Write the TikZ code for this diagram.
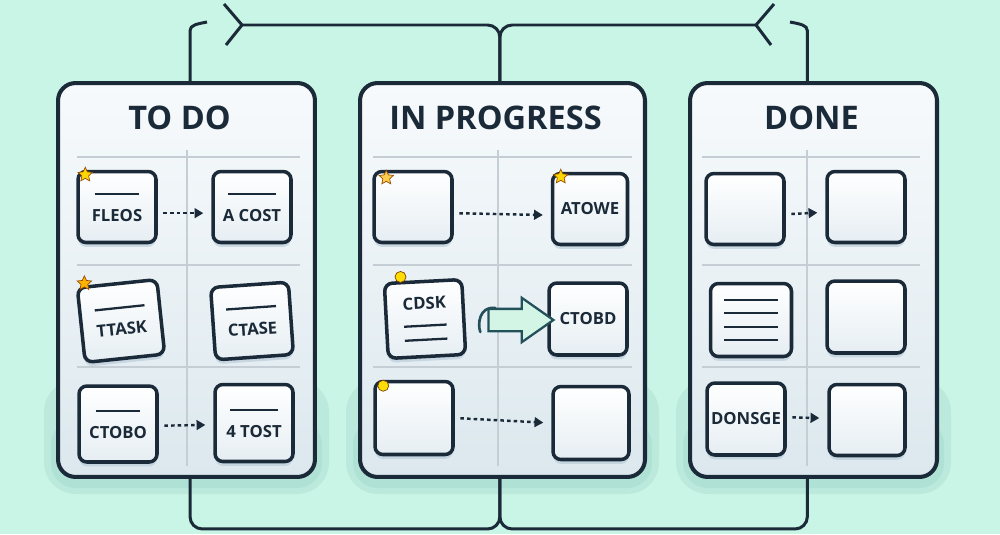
\documentclass[tikz,border=0pt]{standalone}
\usepackage{fontspec}
\setmainfont{Open Sans}
\usetikzlibrary{arrows.meta, positioning, calc}
\usetikzlibrary{shapes.geometric, shapes.arrows, shadows}
\definecolor{mint}{HTML}{C8F5E6}
\definecolor{navy}{HTML}{1B2A38}
\definecolor{gridgrey}{HTML}{C4CED4}
\definecolor{boardtop}{HTML}{F7FAFC}
\definecolor{boardbot}{HTML}{DCE8EE}
\definecolor{cardbot}{HTML}{E6EEF3}
\definecolor{shadowteal}{HTML}{98CDC4}
\definecolor{cardshade}{HTML}{B4C8D6}
\definecolor{arrowfill}{HTML}{D2F5E6}
\definecolor{arrowline}{HTML}{24505A}
\newcommand{\cardline}[1]{\rule{#1}{1.3pt}}

\begin{document}
\begin{tikzpicture}[x=0.02cm, y=-0.02cm,
  board/.style={draw=navy, line width=2.3pt, rounded corners=10pt,
    top color=boardtop, bottom color=boardbot, inner sep=0pt, minimum height=7.88cm},
  title/.style={font=\bfseries\fontsize{18.5}{22}\selectfont, text=navy},
  card/.style={draw=navy, line width=2pt, rounded corners=4.5pt,
    top color=white, bottom color=cardbot, minimum width=1.56cm, minimum height=1.42cm,
    inner sep=2pt, align=center, text=navy, font=\bfseries\fontsize{9.5}{11}\selectfont,
    drop shadow={shadow xshift=0pt, shadow yshift=-2.5pt, fill=cardshade, opacity=0.6}},
  gridline/.style={gridgrey, line width=0.9pt},
  link/.style={navy, line width=1.7pt, rounded corners=7pt},
  dotarrow/.style={navy, line width=1.4pt, dash pattern=on 2pt off 1.8pt,
    -{Triangle[length=5pt, width=5.5pt]}, shorten <=3.2pt, shorten >=4.5pt},
  tack/.style={star, star points=5, star point ratio=2.1, minimum size=0.3cm, inner sep=0pt,
    fill=yellow!75!orange, draw=orange!60!black, line width=0.4pt},
  thumb/.style={circle, minimum size=0.22cm, inner sep=0pt,
    fill=yellow!80!orange, draw=orange!50!black, line width=0.4pt}
]

% Background
\fill[mint] (0,0) rectangle (1000,534);
\useasboundingbox (0,0) rectangle (1000,534);

% Board shadows
\foreach \l/\r in {58/315, 360/645, 690/937} {
  \fill[shadowteal, opacity=0.25, rounded corners=18pt] (\l-14,380) rectangle (\r+14,494);
  \fill[shadowteal, opacity=0.3, rounded corners=14pt] (\l-7,420) rectangle (\r+7,488);
}

% Boards
\node[board, minimum width=5.14cm] (todo) at (186.5,280) {};
\node[board, minimum width=5.7cm] (prog) at (502.5,280) {};
\node[board, minimum width=4.94cm] (done) at (813.5,280) {};

\node[title] (todoT) at ($(todo.north)+(-7,37)$) {TO DO};
\node[title] (progT) at ($(prog.north)+(-7,37)$) {IN PROGRESS};
\node[title] (doneT) at ($(done.north)+(-2,37)$) {DONE};

% Grid lines
\foreach \l/\r/\m in {77/300/187, 373/632/498, 702/920/807} {
  \foreach \y in {157,265,367}
    \draw[gridline] (\l,\y) -- (\r,\y);
  \draw[gridline] (\m,150) -- (\m,466);
}

% To do cards
\node[card] (ta1) at (117,207) {\cardline{0.9cm}\\[4pt]FLEOS};
\node[card] (ta2) at (252,207) {\cardline{0.95cm}\\[4pt]A COST};
\node[card, rotate=6, minimum width=1.6cm, minimum height=1.5cm] (tb1) at (121,321) {\cardline{1cm}\\[4pt]TTASK};
\node[card, rotate=4, minimum height=1.45cm] (tb2) at (252,321) {\cardline{1cm}\\[4pt]CTASE};
\node[card, minimum height=1.52cm] (tc1) at (118,424) {\cardline{0.9cm}\\[4pt]CTOBO};
\node[card, minimum height=1.54cm] (tc2) at (254,423) {\cardline{0.95cm}\\[4pt]4 TOST};

% In progress cards
\node[card] (pa1) at (413,207) {};
\node[card, minimum width=1.5cm] (pa2) at (590,209) {ATOWE};
\node[card, rotate=3, minimum width=1.55cm, minimum height=1.5cm] (pb1) at (425,319)
  {CDSK\\[-1pt]\cardline{0.85cm}\\[-3pt]\cardline{0.85cm}};
\node[card, minimum height=1.44cm] (pb2) at (588,319) {CTOBD};
\node[card, minimum height=1.46cm] (pc1) at (414,418) {};
\node[card, minimum width=1.52cm, minimum height=1.46cm] (pc2) at (591,423) {};

% Done cards
\node[card] (da1) at (745,209) {};
\node[card] (da2) at (866,207) {};
\node[card, minimum width=1.62cm, minimum height=1.46cm] (db1) at (751,320)
  {\cardline{1.08cm}\\[-3.3pt]\cardline{1.08cm}\\[-3.3pt]\cardline{1.08cm}\\[-3.3pt]\cardline{1.08cm}};
\node[card, minimum height=1.44cm] (db2) at (866,317) {};
\node[card, minimum height=1.44cm] (dc1) at (746,419) {DONSGE};
\node[card, minimum width=1.52cm] (dc2) at (867,420) {};

% Pins
\node[tack] (pinA) at ($(ta1.north west)+(9,5)$) {};
\node[tack, fill=orange!60!yellow] (pinB) at ($(tb1.north west)+(9,-3)$) {};
\node[tack, fill=yellow!50!orange!70!white] (pinC) at ($(pa1.north west)+(14,8)$) {};
\node[tack] (pinD) at ($(pa2.north west)+(10,5)$) {};
\node[thumb] (pinE) at ($(pb1.north west)+(18,-5)$) {};
\node[thumb] (pinF) at ($(pc1.north west)+(10,6)$) {};

% Moves between cards
\draw[dotarrow] ([yshift=-3.5pt]ta1.east) -- ([yshift=-3.5pt]ta2.west);
\draw[dotarrow] ([yshift=-1pt]tc1.east) -- ([yshift=-1pt]tc2.west);
\draw[dotarrow] ([yshift=-3.5pt]pa1.east) -- ([yshift=-3.5pt]pa2.west);
\draw[dotarrow] (pc1.east) -- (pc2.west);
\draw[dotarrow] ([yshift=-3pt]da1.east) -- ([yshift=-3pt]da2.west);
\draw[dotarrow] ([yshift=1pt]dc1.east) -- ([yshift=1pt]dc2.west);

\node[single arrow, draw=arrowline, fill=arrowfill, line width=1.3pt, inner sep=0.2cm,
  minimum height=1.3cm, single arrow head extend=0.22cm, single arrow tip angle=70,
  single arrow head indent=0pt] (move) at (513,320) {};
\draw[arrowline, line width=1.5pt, line cap=round]
  ($(move.tail)+(8,-12)$) .. controls ($(move.tail)+(-8,-14)$) and ($(move.tail)+(-10,4)$) .. ($(move.tail)+(-7,12)$);

% Links between boards
\coordinate (hookL) at (207,22);
\coordinate (topL) at (242,25);
\coordinate (topR) at (756,25);
\coordinate (hookR) at (790,22);

\draw[link] ([xshift=2pt]todo.north) -- ++(0,-38) .. controls +(0,-18) and +(-10,2) .. (hookL);
\draw[link] ([xshift=-3.5pt]done.north) -- ++(0,-38) .. controls +(0,-18) and +(10,2) .. (hookR);
\draw[link, rounded corners=0pt] ($(topL)+(-18,-21)$) -- (topL) -- ($(topL)+(-16,20)$);
\draw[link, rounded corners=0pt] ($(topR)+(18,-21)$) -- (topR) -- ($(topR)+(15,20)$);
\draw[link] ([xshift=-1.5pt]prog.north) |- (topL);
\draw[link] ([xshift=-1.5pt]prog.north) |- (topR);

\draw[link] ([xshift=2pt]todo.south) -- ++(0,50) -| ([xshift=-1.5pt]prog.south);
\draw[link] ([xshift=-3.5pt]done.south) -- ++(0,50) -| ([xshift=-1.5pt]prog.south);

\end{tikzpicture}
\end{document}
